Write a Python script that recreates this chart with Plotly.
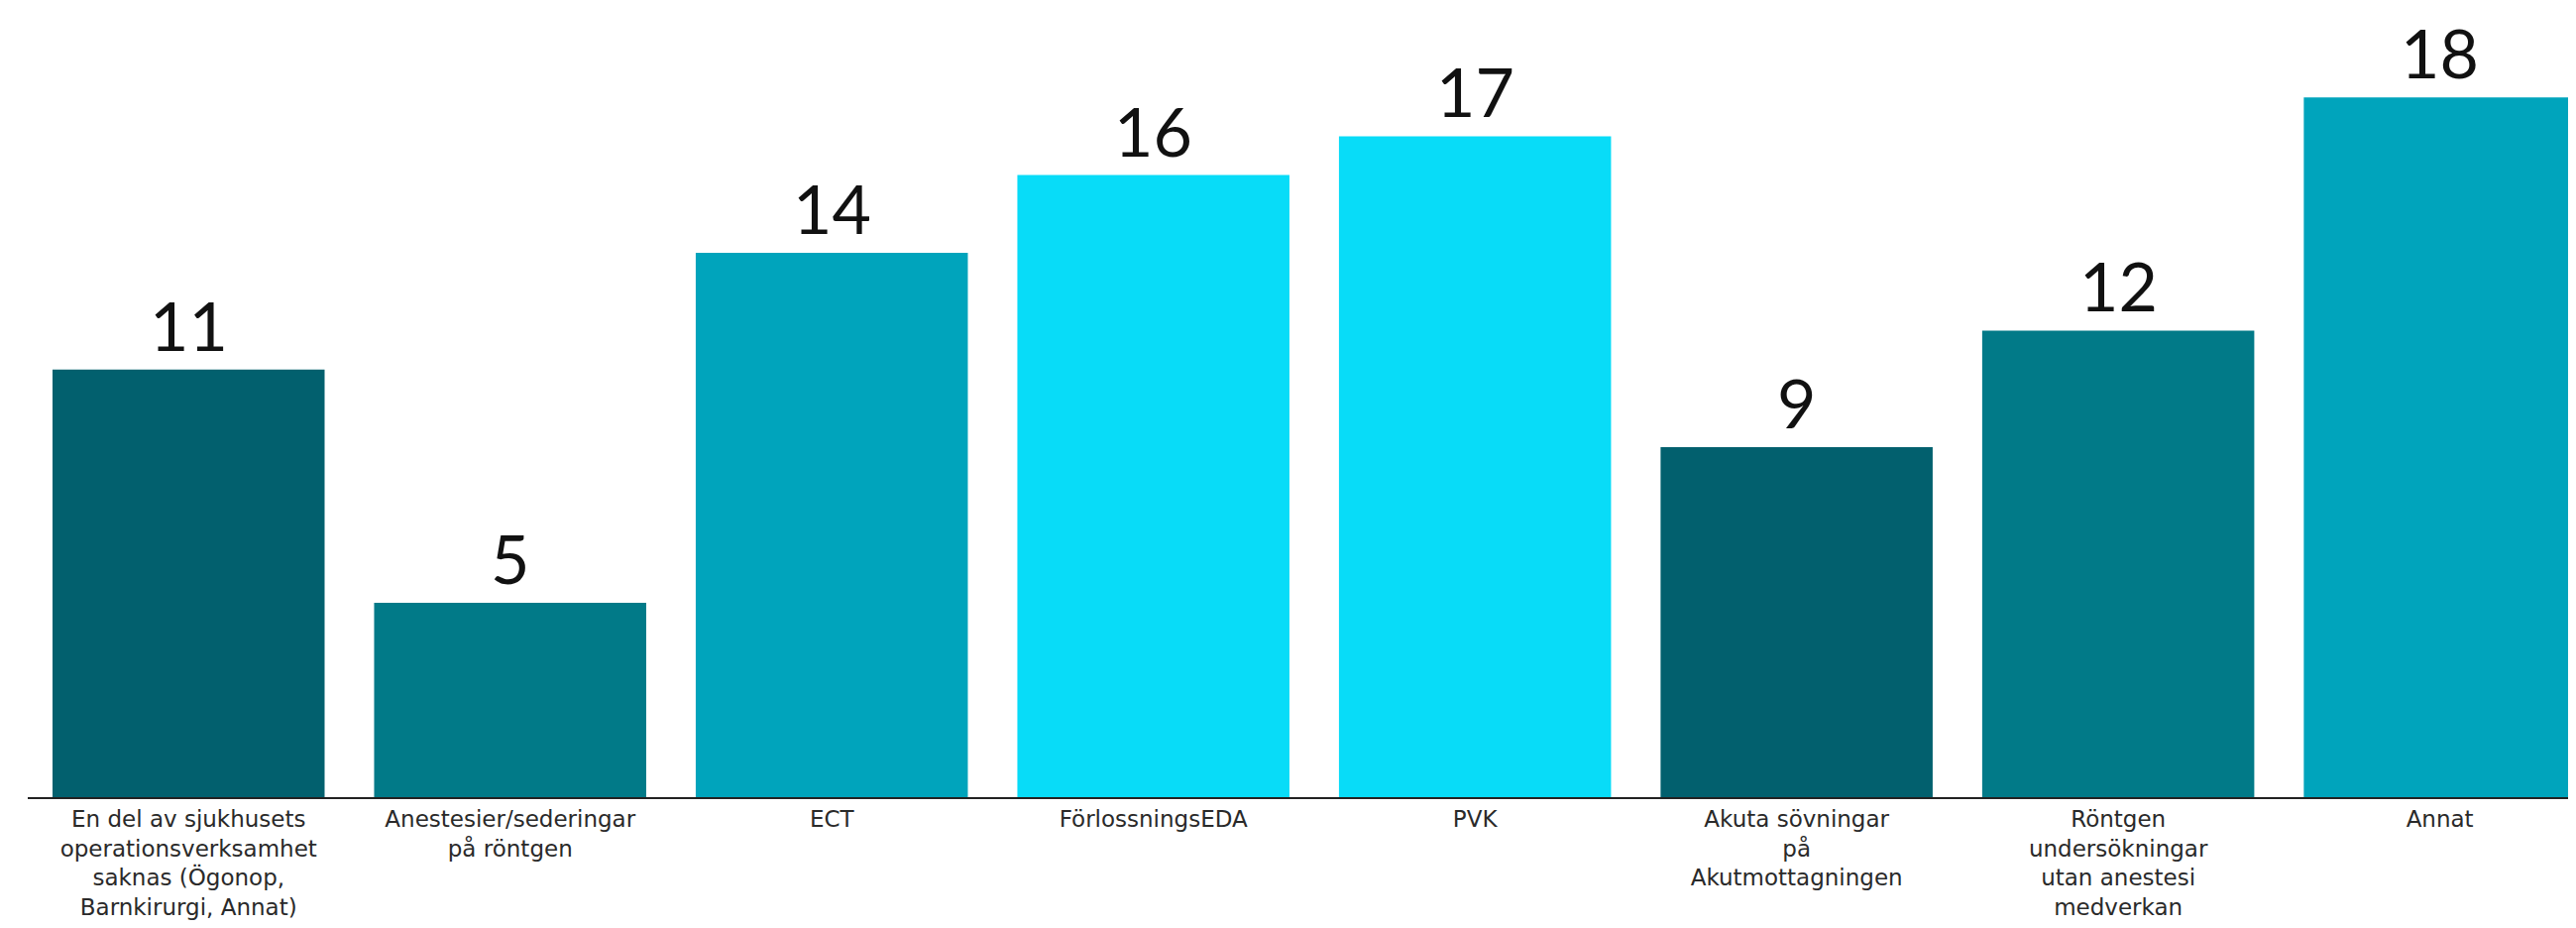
import plotly.graph_objects as go

categories = [
    "En del av sjukhusets<br>operationsverksamhet<br>saknas (Ögonop,<br>Barnkirurgi, Annat)",
    "Anestesier/sederingar<br>på röntgen",
    "ECT",
    "FörlossningsEDA",
    "PVK",
    "Akuta sövningar<br>på<br>Akutmottagningen",
    "Röntgen<br>undersökningar<br>utan anestesi<br>medverkan",
    "Annat",
]
values = [11, 5, 14, 16, 17, 9, 12, 18]
colors = ["#02606E", "#017A88", "#00A4BC", "#08DCF8", "#08DCF8", "#02606E", "#017A88", "#00A4BC"]

fig = go.Figure()
fig.add_trace(go.Bar(
    x=list(range(len(categories))),
    y=values,
    marker=dict(color=colors, line=dict(width=0)),
    hoverinfo="skip",
))

for i, v in enumerate(values):
    fig.add_annotation(
        x=i, y=v, text=str(v), showarrow=False,
        yanchor="bottom", yshift=4, borderpad=0,
        font=dict(family="Lato", size=68, color="#111111"),
    )

fig.update_layout(
    width=2599, height=936,
    margin=dict(l=20, r=0, t=0, b=140),
    paper_bgcolor="white", plot_bgcolor="white",
    bargap=0.154,
    showlegend=False,
    xaxis=dict(
        tickmode="array",
        tickvals=list(range(len(categories))),
        ticktext=categories,
        range=[-0.5, 7.448],
        showline=True, linecolor="#222222", linewidth=2,
        showgrid=False, zeroline=False, ticks="",
        tickfont=dict(family="DejaVu Sans", size=23, color="#2a2a2a"),
        fixedrange=True,
    ),
    yaxis=dict(
        range=[0, 20.3],
        visible=False, showgrid=False, zeroline=False,
        fixedrange=True,
    ),
)

fig.write_html("out.html")
